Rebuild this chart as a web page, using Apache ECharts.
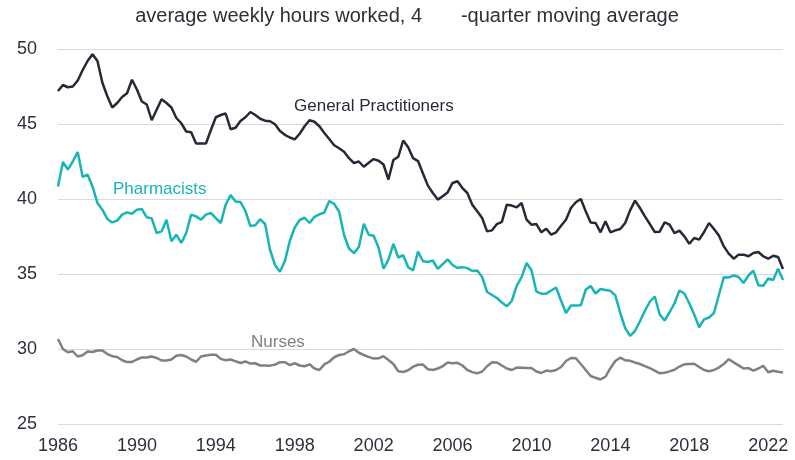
<!DOCTYPE html>
<html>
<head>
<meta charset="utf-8">
<script src="https://cdn.jsdelivr.net/npm/echarts@6/dist/echarts.min.js"></script>
<style>
  html, body { margin: 0; padding: 0; background: #fff; }
  #chart { width: 795px; height: 460px; }
</style>
</head>
<body>
<div id="chart"></div>
<script>
// quarterly, 1986 Q1 - 2022 Q4
const startYear = 1986
const endYear = 2022
const yearTicks = ['1986', '1990', '1994', '1998', '2002', '2006', '2010', '2014', '2018', '2022']

const generalPractitioners = [
  47.2, 47.6, 47.45, 47.5, 47.9, 48.6, 49.2, 49.65, 49.2, 47.75, 46.85, 46.1, 46.4, 46.8, 47.05, 47.95,
  47.3, 46.5, 46.3, 45.25, 45.95, 46.65, 46.4,
  46.1, 45.4, 45.05, 44.5, 44.45, 43.7, 43.7, 43.7, 44.6, 45.45, 45.6, 45.7, 44.65, 44.75, 45.2,
  45.45, 45.8, 45.6, 45.35, 45.22, 45.18, 44.98, 44.54, 44.28, 44.1, 43.98, 44.35, 44.85, 45.25, 45.15,
  44.85, 44.4, 44.0, 43.58, 43.38, 43.15, 42.72, 42.4, 42.5, 42.15, 42.42, 42.66, 42.55, 42.3, 41.3,
  42.6, 42.82, 43.9, 43.45, 42.72, 42.53, 41.7, 40.89, 40.4, 39.96, 40.18, 40.44, 41.07, 41.18, 40.73,
  40.4, 39.62, 39.18, 38.73, 37.84, 37.91, 38.33, 38.47, 39.62, 39.56, 39.44, 39.73, 38.62, 38.29, 38.33,
  37.78, 38.02, 37.62, 37.78, 38.22, 38.62, 39.4, 39.78, 40.0, 39.18, 38.44, 38.4, 37.78, 38.51,
  37.78, 37.91, 38.0, 38.4, 39.24, 39.89, 39.4, 38.84, 38.33, 37.8, 37.82, 38.44, 38.29, 37.73, 37.89,
  37.51, 37.02, 37.4, 37.29, 37.8, 38.4, 38.0, 37.56, 36.84, 36.36, 36.02, 36.29, 36.29, 36.18, 36.4,
  36.47, 36.18, 36.02, 36.22, 36.13, 35.33
]

const pharmacists = [
  40.84, 42.47, 41.96, 42.51, 43.13, 41.47, 41.62, 40.84, 39.73, 39.29, 38.67, 38.44, 38.56, 38.96, 39.11,
  39.02, 39.29, 39.33, 38.78, 38.71, 37.73, 37.84, 38.62,
  37.18, 37.62, 37.07, 37.73, 38.96, 38.84, 38.62, 38.96, 39.07, 38.73, 38.4, 39.62, 40.27, 39.84, 39.8,
  39.2, 38.2, 38.25, 38.65, 38.32, 36.6, 35.6, 35.15, 35.85, 37.2, 38.1, 38.6, 38.75, 38.4, 38.81,
  38.97, 39.1, 39.87, 39.67, 39.15, 37.6, 36.7, 36.39, 36.8, 38.35, 37.62, 37.55, 36.75, 35.35, 35.96,
  37.0, 36.1, 36.25, 35.45, 35.24, 36.5, 35.85, 35.8, 35.9, 35.35, 35.66, 35.97, 35.6, 35.4, 35.46,
  35.39, 35.2, 35.23, 34.8, 33.8, 33.6, 33.4, 33.1, 32.85, 33.2, 34.2, 34.8, 35.73, 35.25, 33.83,
  33.69, 33.69, 33.9, 34.1, 33.22, 32.4, 32.9, 32.9, 32.91, 33.95, 34.2, 33.7, 34.0, 33.93,
  33.88, 33.57, 32.4, 31.4, 30.88, 31.2, 31.85, 32.55, 33.15, 33.5, 32.3, 31.9, 32.45, 33.05, 33.9,
  33.7, 33.05, 32.3, 31.45, 31.98, 32.1, 32.4, 33.6, 34.78, 34.77, 34.9, 34.8, 34.4, 34.9, 35.22,
  34.25, 34.22, 34.7, 34.6, 35.35, 34.6
]

const nurses = [
  30.67, 30.0, 29.78, 29.85, 29.5, 29.58, 29.83, 29.8, 29.9, 29.9, 29.66, 29.52, 29.47, 29.25, 29.13,
  29.14, 29.3, 29.44, 29.44, 29.5, 29.4, 29.24, 29.24,
  29.3, 29.55, 29.6, 29.5, 29.3, 29.15, 29.5, 29.56, 29.62, 29.62, 29.34, 29.25, 29.3, 29.18, 29.07,
  29.17, 29.03, 29.05, 28.9, 28.9, 28.89, 28.96, 29.12, 29.12, 28.93, 29.05, 28.9, 28.85, 28.98, 28.7,
  28.6, 28.97, 29.15, 29.45, 29.6, 29.65, 29.85, 30.0, 29.75, 29.6, 29.48, 29.36, 29.38, 29.52, 29.26,
  29.0, 28.52, 28.47, 28.58, 28.82, 28.95, 28.96, 28.65, 28.6, 28.7, 28.85, 29.1, 29.05, 29.08, 28.9,
  28.6, 28.46, 28.38, 28.5, 28.85, 29.12, 29.1, 28.9, 28.7, 28.6, 28.76, 28.75, 28.73, 28.73, 28.5,
  28.4, 28.56, 28.52, 28.6, 28.8, 29.2, 29.4, 29.38, 29.0, 28.6, 28.2, 28.08, 27.97, 28.15,
  28.72, 29.2, 29.42, 29.25, 29.21, 29.1, 29.0, 28.86, 28.72, 28.56, 28.38, 28.42, 28.51, 28.62, 28.83,
  28.98, 29.0, 29.02, 28.8, 28.6, 28.52, 28.6, 28.76, 29.0, 29.32, 29.11, 28.91, 28.7, 28.73, 28.56,
  28.7, 28.88, 28.45, 28.55, 28.48, 28.44
]

let quarters = []
for (let y = startYear; y <= endYear; y++) {
  for (let q = 1; q <= 4; q++) quarters.push(y + ' Q' + q)
}

const font = "Arial, 'Liberation Sans', sans-serif"
const gpColor = '#262a36'
const phColor = '#17b5b5'
const nuColor = '#808080'

let myChart = echarts.init(document.getElementById('chart'))
myChart.setOption({
  animation: false,
  textStyle: { fontFamily: font },
  grid: { left: 58, right: 12, top: 49, bottom: 36 },
  xAxis: {
    type: 'category',
    data: quarters,
    boundaryGap: false,
    axisLine: { show: false },
    axisTick: { show: false },
    axisLabel: {
      // only the first quarter of every 4th year
      interval: function (i, v) { return v.endsWith('Q1') && yearTicks.indexOf(v.slice(0, 4)) >= 0 },
      formatter: function (v) { return v.slice(0, 4) },
      color: '#2b303b',
      fontSize: 18,
      margin: 13
    }
  },
  yAxis: {
    type: 'value',
    min: 25,
    max: 50,
    interval: 5,
    axisLine: { show: false },
    axisTick: { show: false },
    axisLabel: { color: '#2b303b', fontSize: 18, margin: 21 },
    splitLine: { lineStyle: { color: '#d9d9d9', width: 1 } }
  },
  series: [
    { name: 'General Practitioners', type: 'line', data: generalPractitioners, symbol: 'none',
      lineStyle: { color: gpColor, width: 2.5 } },
    { name: 'Pharmacists', type: 'line', data: pharmacists, symbol: 'none',
      lineStyle: { color: phColor, width: 2.5 } },
    { name: 'Nurses', type: 'line', data: nurses, symbol: 'none',
      lineStyle: { color: nuColor, width: 2.5 } }
  ],
  graphic: [
    { type: 'text', x: 407, y: 6, style: { text: 'average weekly hours worked, 4       -quarter moving average',
      font: '20px ' + font, fill: '#2b303b', align: 'center' } },
    { type: 'text', x: 294, y: 98, style: { text: 'General Practitioners', font: '17px ' + font, fill: gpColor } },
    { type: 'text', x: 113, y: 181, style: { text: 'Pharmacists', font: '17px ' + font, fill: phColor } },
    { type: 'text', x: 251, y: 334, style: { text: 'Nurses', font: '17px ' + font, fill: nuColor } }
  ]
})
</script>
</body>
</html>
